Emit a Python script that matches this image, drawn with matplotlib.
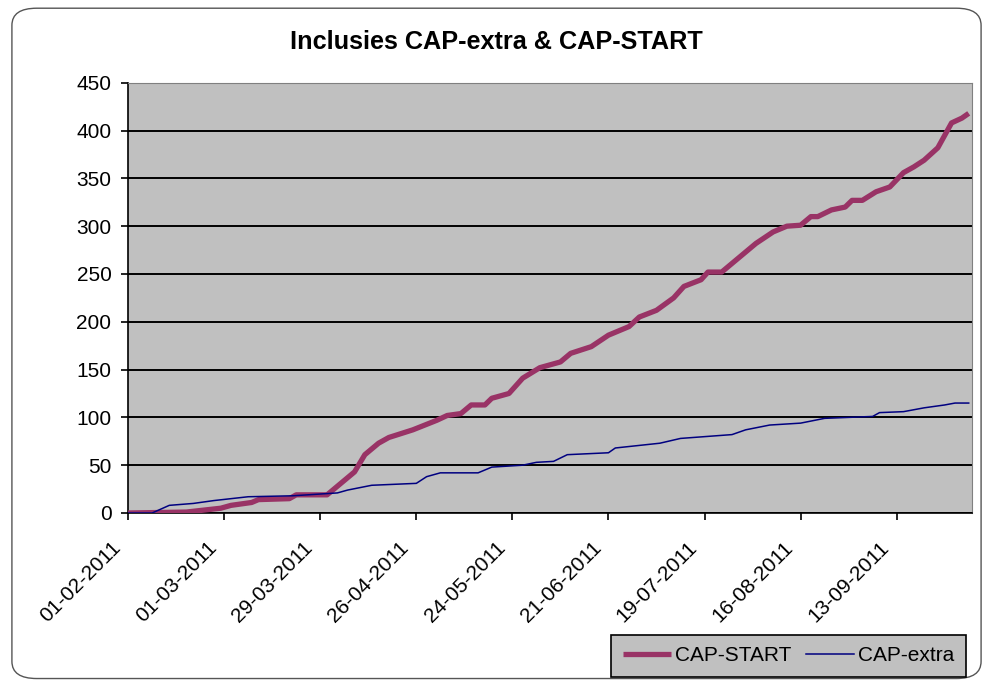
"""Inclusies CAP-extra & CAP-START: cumulative inclusions, Excel-style line chart."""

import datetime as dt

import matplotlib
matplotlib.use("Agg")
import matplotlib.dates as mdates
import matplotlib.pyplot as plt
import matplotlib.transforms as mtransforms
from matplotlib.patches import FancyBboxPatch

plt.rcParams["font.family"] = ["Liberation Sans", "DejaVu Sans"]

# Cumulative inclusions (date, count).
start_dates = ["2011-02-01", "2011-02-18", "2011-02-28", "2011-03-03", "2011-03-09",
               "2011-03-11", "2011-03-20", "2011-03-22", "2011-03-31", "2011-04-04",
               "2011-04-08", "2011-04-11", "2011-04-15", "2011-04-18", "2011-04-25",
               "2011-05-02", "2011-05-05", "2011-05-09", "2011-05-12", "2011-05-16",
               "2011-05-18", "2011-05-23", "2011-05-27", "2011-06-01", "2011-06-07",
               "2011-06-10", "2011-06-16", "2011-06-21", "2011-06-27", "2011-06-30",
               "2011-07-05", "2011-07-10", "2011-07-13", "2011-07-18", "2011-07-20",
               "2011-07-24", "2011-07-29", "2011-08-03", "2011-08-08", "2011-08-12",
               "2011-08-16", "2011-08-19", "2011-08-21", "2011-08-25", "2011-08-29",
               "2011-08-31", "2011-09-03", "2011-09-07", "2011-09-11", "2011-09-15",
               "2011-09-18", "2011-09-21", "2011-09-25", "2011-09-27", "2011-09-29",
               "2011-10-02", "2011-10-04"]
start_vals = [0, 1, 5, 8, 11, 14, 15, 19, 19, 31,
              43, 61, 73, 79, 87, 97, 102, 104, 113, 113,
              120, 125, 141, 152, 158, 167, 174, 186, 195, 205,
              212, 225, 237, 244, 252, 252, 267, 282, 294, 300,
              301, 310, 310, 317, 320, 327, 327, 336, 341, 356,
              362, 369, 382, 395, 408, 413, 418]

extra_dates = ["2011-02-01", "2011-02-08", "2011-02-13", "2011-02-20", "2011-02-26",
               "2011-03-08", "2011-03-21", "2011-04-03", "2011-04-06", "2011-04-13",
               "2011-04-26", "2011-04-29", "2011-05-03", "2011-05-14", "2011-05-18",
               "2011-05-27", "2011-05-31", "2011-06-05", "2011-06-09", "2011-06-21",
               "2011-06-23", "2011-07-06", "2011-07-12", "2011-07-27", "2011-07-31",
               "2011-08-07", "2011-08-16", "2011-08-23", "2011-09-06", "2011-09-08",
               "2011-09-15", "2011-09-21", "2011-09-27", "2011-09-30", "2011-10-04"]
extra_vals = [0, 0, 8, 10, 13, 17, 18, 21, 24, 29,
              31, 38, 42, 42, 48, 50, 53, 54, 61, 63,
              68, 73, 78, 82, 87, 92, 94, 99, 101, 105,
              106, 110, 113, 115, 115]

tick_dates = ["2011-02-01", "2011-03-01", "2011-03-29", "2011-04-26", "2011-05-24",
              "2011-06-21", "2011-07-19", "2011-08-16", "2011-09-13"]


def _to_dates(values):
    return [dt.datetime.strptime(v, "%Y-%m-%d") for v in values]


fig = plt.figure(figsize=(9.93, 6.84), dpi=100)
fig.patch.set_facecolor("white")

# rounded chart-area border (outline only so the axes stay visible)
border = FancyBboxPatch((0.012, 0.008), 0.976, 0.98,
                        boxstyle="round,pad=0,rounding_size=0.025",
                        transform=fig.transFigure, facecolor="none",
                        edgecolor="#555555", linewidth=1.0)
fig.patches.append(border)

ax = fig.add_axes([0.129, 0.25, 0.850, 0.629])
ax.set_facecolor("#C0C0C0")

ax.plot(_to_dates(start_dates), start_vals, color="#993366", linewidth=3.8,
        label="CAP-START", solid_capstyle="butt", zorder=3)
ax.plot(_to_dates(extra_dates), extra_vals, color="#000080", linewidth=1.1,
        label="CAP-extra", zorder=4)

ax.set_ylim(0, 450)
ax.set_yticks(range(0, 451, 50))
ax.set_xlim(dt.datetime(2011, 2, 1), dt.datetime(2011, 10, 5))
ax.set_xticks(_to_dates(tick_dates))
ax.xaxis.set_major_formatter(mdates.DateFormatter("%d-%m-%Y"))

ax.grid(axis="y", color="black", linewidth=1.4)
ax.set_axisbelow(True)

for side in ("top", "right"):
    ax.spines[side].set_color("#808080")
for side in ("left", "bottom"):
    ax.spines[side].set_color("black")
    ax.spines[side].set_linewidth(1.2)

ax.tick_params(axis="both", direction="out", length=5, width=1.2, colors="black",
               labelsize=15)
ax.tick_params(axis="y", pad=7)
# Excel puts the rotated date labels a bit lower and left of the tick
shift = mtransforms.ScaledTranslation(-0.17, -0.13, fig.dpi_scale_trans)
for lbl in ax.get_xticklabels():
    lbl.set_rotation(45)
    lbl.set_ha("right")
    lbl.set_rotation_mode("anchor")
    lbl.set_transform(lbl.get_transform() + shift)

fig.text(0.5, 0.938, "Inclusies CAP-extra & CAP-START", ha="center", va="center",
         fontsize=18.2, fontweight="bold")

leg = fig.legend(loc="center", bbox_to_anchor=(0.794, 0.041), ncol=2,
                 fontsize=15, frameon=True, fancybox=False, facecolor="#C0C0C0",
                 edgecolor="black", handlelength=2.3, handletextpad=0.2,
                 columnspacing=0.7, borderpad=0.55)
leg.get_frame().set_linewidth(1.2)
leg.get_frame().set_alpha(1)

fig.savefig("out.png", dpi=100)
